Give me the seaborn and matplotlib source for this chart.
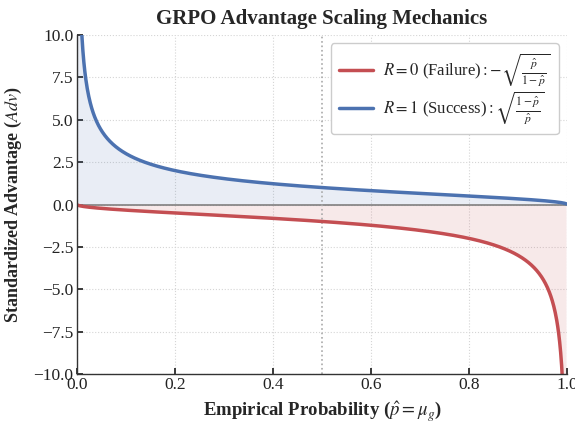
import numpy as np
import matplotlib
matplotlib.use("Agg")
import matplotlib.pyplot as plt
import seaborn as sns

# Empirical probability grid and the advantage values defined in the legend
p_hat = np.linspace(0.001, 0.999, 1000)
adv_fail = -np.sqrt(p_hat / (1 - p_hat))      # R = 0
adv_success = np.sqrt((1 - p_hat) / p_hat)    # R = 1

labels = [r'$R=0$ (Failure)$: -\sqrt{\frac{\hat{p}}{1-\hat{p}}}$',
          r'$R=1$ (Success)$: \sqrt{\frac{1-\hat{p}}{\hat{p}}}$']
x_ticks = [0.0, 0.2, 0.4, 0.6, 0.8, 1.0]
y_ticks = [-10.0, -7.5, -5.0, -2.5, 0.0, 2.5, 5.0, 7.5, 10.0]

sns.set_theme(style="ticks")
plt.rcParams['font.family'] = ['Liberation Serif', 'DejaVu Serif']
plt.rcParams['mathtext.fontset'] = 'stix'

red = '#c44e52'
blue = '#4c72b0'

fig = plt.figure(figsize=(5.75, 4.23), dpi=100)
ax = fig.add_axes([77/575, 1 - 374/423, 490/575, 339/423])

sns.lineplot(x=p_hat, y=adv_fail, ax=ax, color=red, lw=2.5, label=labels[0])
sns.lineplot(x=p_hat, y=adv_success, ax=ax, color=blue, lw=2.5, label=labels[1])
ax.fill_between(p_hat, adv_fail, 0, color=red, alpha=0.12, lw=0)
ax.fill_between(p_hat, adv_success, 0, color=blue, alpha=0.12, lw=0)

ax.axhline(0, color='gray', lw=1.2, zorder=1)
ax.axvline(0.5, color='darkgray', lw=1.2, ls=':', zorder=1)

ax.set_xlim(0, 1)
ax.set_ylim(-10, 10)
ax.set_xticks(x_ticks)
ax.set_yticks(y_ticks)
ax.grid(True, ls=':', color='#d5d5d5', lw=0.8)
ax.set_axisbelow(True)
sns.despine(ax=ax)
for s in ['left', 'bottom']:
    ax.spines[s].set_color('#333333')
    ax.spines[s].set_linewidth(1.0)
ax.tick_params(direction='in', length=4, labelsize=12.5, colors='#222222', pad=2.5)

ax.set_title('GRPO Advantage Scaling Mechanics', fontsize=15, fontweight='bold', pad=8)
ax.set_xlabel(r'Empirical Probability ($\hat{p} = \mu_g$)', fontsize=13.5, fontweight='bold', labelpad=4)
ax.set_ylabel(r'Standardized Advantage ($Adv$)', fontsize=13, fontweight='bold', labelpad=7)

leg = ax.legend(loc='upper right', fontsize=12, frameon=True, fancybox=True,
                edgecolor='#cccccc', handlelength=2.0, handletextpad=0.6,
                borderpad=0.5, labelspacing=0.05)
leg.get_frame().set_alpha(1.0)

fig.savefig('out.png', dpi=100)
